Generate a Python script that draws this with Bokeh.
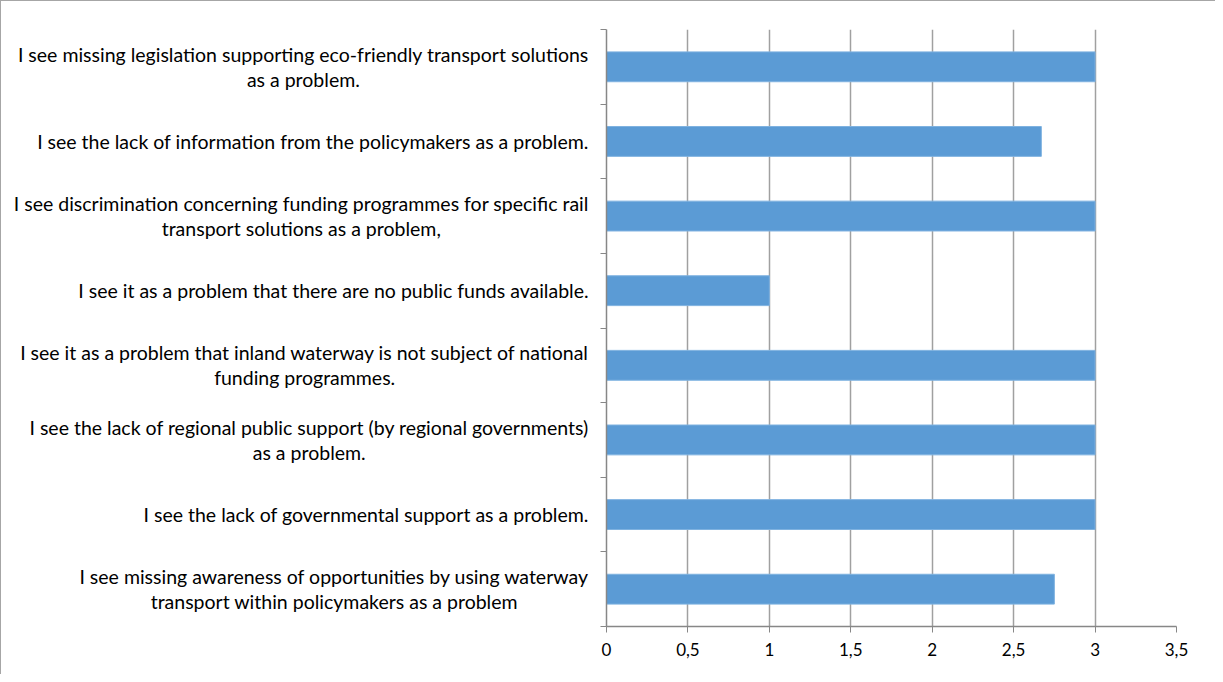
import subprocess
from bokeh.plotting import figure
from bokeh.layouts import row
from bokeh.models import FixedTicker, ColumnDataSource, Range1d
from bokeh.core.properties import value
from bokeh.embed import file_html
from bokeh.resources import INLINE

categories = [
    "I see missing legislation supporting eco-friendly transport solutions\nas a problem.",
    "I see the lack of information from the policymakers as a problem.",
    "I see discrimination concerning funding programmes for specific rail\ntransport solutions as a problem,",
    "I see it as a problem that there are no public funds available.",
    "I see it as a problem that inland waterway is not subject of national\nfunding programmes.",
    "I see the lack of regional public support (by regional governments)\nas a problem.",
    "I see the lack of governmental support as a problem.",
    "I see missing awareness of opportunities by using waterway\ntransport within policymakers as a problem",
]
values = [3, 2.67, 3, 1, 3, 3, 3, 2.75]
x_ticks = [0, 0.5, 1, 1.5, 2, 2.5, 3, 3.5]
x_tick_labels = ["0", "0,5", "1", "1,5", "2", "2,5", "3", "3,5"]

FONT = "Lato"
LABEL_PX = 19.5
LINE_SPACING = 25
TOTAL_W, TOTAL_H = 1215, 674
LEFT_W = 590          # width of the label panel
FRAME_LEFT = 606      # x of the value axis within the whole chart
LABEL_RIGHT = 587     # right edge of the category label blocks
TOP, BOTTOM = 28, 49


def text_width(s):
    try:
        from PIL import ImageFont
        path = subprocess.run(["fc-match", FONT, "--format=%{file}"],
                              capture_output=True, text=True).stdout.strip()
        f = ImageFont.truetype(path, LABEL_PX)
        return f.getlength(s)
    except Exception:
        return 0.5 * LABEL_PX * len(s)


n = len(categories)
ypos = [n - 1 - i for i in range(n)]
bars = ColumnDataSource(dict(y=ypos, v=values))

# one row per text line; each label block right-aligned, its lines centred
ly, lt, lx, loff = [], [], [], []
for yv, c in zip(ypos, categories):
    lines = c.split("\n")
    w = max(text_width(s) for s in lines)
    k = len(lines)
    for j, s in enumerate(lines):
        ly.append(yv)
        lt.append(s)
        lx.append(LABEL_RIGHT - w / 2)
        loff.append((j - (k - 1) / 2) * LINE_SPACING)
lab_src = ColumnDataSource(dict(y=ly, t=lt, x=lx, off=loff))

yr = Range1d(-0.5, n - 0.5)

# label panel
left = figure(width=LEFT_W, height=TOTAL_H, output_backend="svg", toolbar_location=None,
              x_range=Range1d(0, LEFT_W), y_range=yr,
              min_border_left=0, min_border_right=0, min_border_top=TOP, min_border_bottom=BOTTOM)
left.axis.visible = False
left.grid.visible = False
left.outline_line_color = None
left.styles = {"border-top": "1px solid #a6a6a6", "border-left": "1px solid #a6a6a6"}
left.text(x="x", y="y", text="t", y_offset="off", source=lab_src,
          text_align="center", text_baseline="middle",
          text_font=value(FONT), text_font_size=value(f"{LABEL_PX}px"), text_color="#000000")

# chart panel
p = figure(width=TOTAL_W - LEFT_W, height=TOTAL_H, output_backend="svg", toolbar_location=None,
           x_range=Range1d(0, 3.5), y_range=yr,
           min_border_left=FRAME_LEFT - LEFT_W, min_border_top=TOP, min_border_right=39,
           min_border_bottom=BOTTOM)
p.outline_line_color = None
p.styles = {"border-top": "1px solid #a6a6a6"}

p.hbar(y="y", right="v", left=0, height=0.4, source=bars,
       fill_color="#5B9BD5", line_color="#7fb2e0", line_width=1)

xa = p.xaxis[0]
xa.ticker = FixedTicker(ticks=x_ticks)
xa.major_label_overrides = {t: l for t, l in zip(x_ticks, x_tick_labels)}
xa.axis_line_color = "#878787"
xa.axis_line_width = 1.5
xa.major_tick_line_color = "#878787"
xa.major_tick_out = 6
xa.major_tick_in = 0
xa.minor_tick_line_color = None
xa.major_label_text_font = FONT
xa.major_label_text_font_size = "17px"
xa.major_label_text_color = "#000000"
xa.major_label_standoff = 10

ya = p.yaxis[0]
ya.ticker = FixedTicker(ticks=[], minor_ticks=[k - 0.5 for k in range(n + 1)])
ya.major_label_text_font_size = "1px"
ya.major_label_text_color = None
ya.axis_line_color = "#878787"
ya.axis_line_width = 1.5
ya.major_tick_out = 0
ya.major_tick_in = 0
ya.minor_tick_line_color = "#878787"
ya.minor_tick_out = 6
ya.minor_tick_in = 0

p.xgrid.grid_line_color = "#a0a0a0"
p.xgrid.grid_line_width = 1.5
p.ygrid.grid_line_color = None

layout = row(left, p)
open("out.html", "w").write(file_html(layout, INLINE))
